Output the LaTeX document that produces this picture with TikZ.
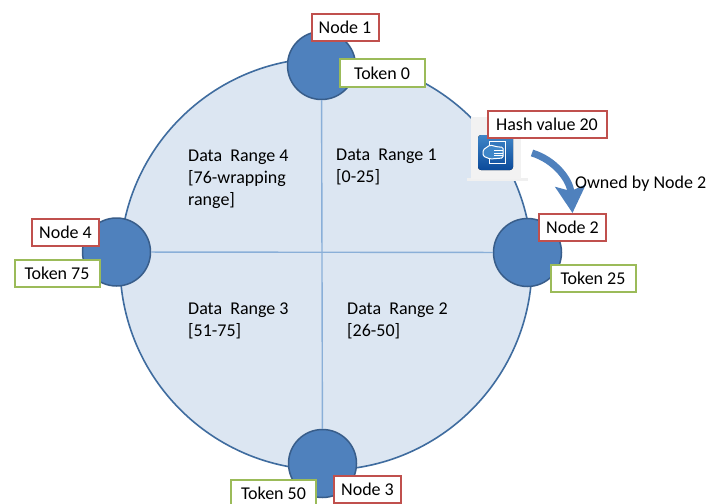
\documentclass[tikz,border=0pt]{standalone}
\usepackage{fontspec}
\setmainfont{Carlito}
\usetikzlibrary{arrows.meta}
\definecolor{ringfill}{HTML}{DCE6F2}
\definecolor{ringline}{HTML}{3F6C9F}
\definecolor{spoke}{HTML}{8AAFD8}
\definecolor{nodefill}{HTML}{4F81BD}
\definecolor{nodeline}{HTML}{385D8A}
\definecolor{redline}{HTML}{C0504D}
\definecolor{greenline}{HTML}{9BBB59}
\definecolor{icontop}{HTML}{3F86C8}
\definecolor{iconbot}{HTML}{0B4A9A}
\tikzset{
  ring/.style={circle,draw=ringline,line width=1.6pt,fill=ringfill,minimum size=412pt,inner sep=0pt},
  member/.style={circle,draw=nodeline,line width=1.5pt,fill=nodefill,minimum size=68pt,inner sep=0pt},
  tag/.style={rectangle,fill=white,line width=2pt,inner sep=0pt,font=\fontsize{18}{18}\selectfont,text=black},
  redtag/.style={tag,draw=redline},
  greentag/.style={tag,draw=greenline},
  nodetag/.style={redtag,minimum width=67pt,minimum height=27pt},
  tokentag/.style={greentag,minimum width=85pt,minimum height=27pt},
  rangetext/.style={anchor=north west,align=left,inner sep=0pt,font=\fontsize{18}{22}\selectfont,text=black},
  spokeline/.style={draw=spoke,line width=1.4pt},
  bigarrow/.style={draw=nodefill,line width=7pt,-{Stealth[width=30pt,length=27pt,inset=5pt]}}
}
\begin{document}
\begin{tikzpicture}[x=1pt,y=-1pt]
\useasboundingbox (0,0) rectangle (709,503);
\clip (0,0) rectangle (709,503);
\fill[white] (0,0) rectangle (709,503);
\node[ring] (ring) at (326,264) {};
\node[member] (n1) at (321.5,65.5) {};
\node[member] (n2) at (527.5,252.5) {};
\node[member] (n3) at (322.5,463.5) {};
\node[member] (n4) at (116.5,252) {};
\draw[spokeline] (n4) -- (n2);
\draw[spokeline] (n1) -- (n3);
\node[rangetext] (r4) at (188,150) {Data\ \ Range 4\\{[}76-wrapping\\range]};
\node[rangetext] (r1) at (336,149) {Data\ \ Range 1\\{[}0-25]};
\node[rangetext] (r3) at (188,303) {Data\ \ Range 3\\{[}51-75]};
\node[rangetext] (r2) at (347,303) {Data\ \ Range 2\\{[}26-50]};
% icon
\fill[black!6] (467,178) rectangle (528,181);
\node[rectangle,fill=black!5,minimum width=50pt,minimum height=62pt,inner sep=0pt] (icon) at (496,148) {};
\fill[top color=icontop,bottom color=iconbot,rounded corners=3pt] (478,135) rectangle (513,170);
\draw[white,line width=0.9pt] (489,141) -- (505,141) -- (505,163) -- (489,163) -- (489,158);
\draw[white,line width=0.9pt] (489,146) -- (489,141);
\draw[white,line width=1pt,fill=icontop,rounded corners=1.5pt] (483,150) -- (490,145) -- (498,147) -- (503,147) -- (503,158) -- (490,159) -- (483,156) -- cycle;
\draw[white,line width=0.7pt] (494,150.5) -- (503,150.5) (494,153) -- (503,153) (494,155.5) -- (503,155.5);
\node[redtag,minimum width=119pt,minimum height=27pt] (hash) at (547,124.5) {Hash value 20};
\coordinate (arrowstart) at (532,153);
\node[nodetag] (t2) at (572.5,227.5) {Node 2};
\draw[bigarrow] (arrowstart) .. controls (555,160) and (570,180) .. (t2.north);
\node[anchor=west,inner sep=0pt,font=\fontsize{18}{18}\selectfont] (owned) at (575,184) {Owned by Node 2};
\node[nodetag] (t1) at (345,27.5) {Node 1};
\node[nodetag] (t3) at (367.5,489.5) {Node 3};
\node[nodetag] (t4) at (65.5,232.5) {Node 4};
\node[tokentag] (k0) at (382,73) {Token 0};
\node[tokentag] (k2) at (593,278.5) {Token 25};
\node[tokentag] (k3) at (273.5,493.5) {Token 50};
\node[tokentag] (k4) at (57,273) {Token 75};
\end{tikzpicture}
\end{document}
